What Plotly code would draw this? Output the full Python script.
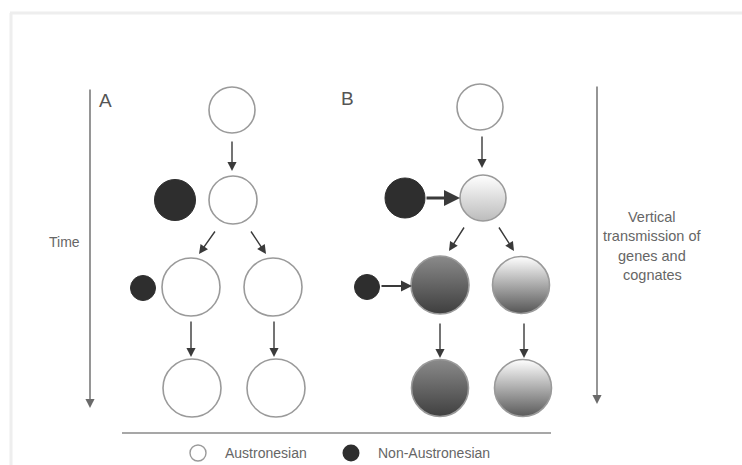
import plotly.graph_objects as go

# ---- Data: nodes of the two panels (diagram coordinates) ----
# Panel A nodes
a_node_x = [232, 233, 191, 273, 192, 276]
a_node_y = [110, 200, 287, 287, 388, 388]
a_node_d = [46, 48, 58, 58, 58, 58]
# Panel A non-Austronesian contacts
a_dark_x = [175, 143]
a_dark_y = [200, 288]
a_dark_d = [41, 25]

# Panel B nodes with top colour / bottom colour (mixing)
b_node_x = [480, 483, 440, 521, 440, 523]
b_node_y = [107, 198, 285, 285, 388, 388]
b_node_d = [46, 46, 58, 57, 57, 57]
b_top = ["#ffffff", "#ffffff", "#8a8a8a", "#ffffff", "#8a8a8a", "#ffffff"]
b_bottom = ["#ffffff", "#bcbcbc", "#3e3e3e", "#555555", "#404040", "#5a5a5a"]
b_dark_x = [405, 367]
b_dark_y = [198, 287]
b_dark_d = [40, 25]

# Arrows: (tail_x, tail_y, head_x, head_y, width)
arrows = [
    (232, 140, 232, 171, 1.4),
    (216, 230, 199, 254, 1.4),
    (250, 230, 266, 254, 1.4),
    (191, 320, 191, 357, 1.4),
    (274, 320, 274, 357, 1.4),
    (482, 135, 482, 168, 1.4),
    (465, 226, 449, 251, 1.4),
    (498, 226, 514, 251, 1.4),
    (440, 322, 440, 358, 1.4),
    (524, 322, 524, 358, 1.4),
    (425, 198, 460, 198, 3.2),
    (380, 286, 412, 286, 2.2),
]
time_arrows = [(90, 88, 90, 408), (597, 85, 597, 404)]

legend_labels = ["Austronesian", "Non-Austronesian"]
side_text = ["Vertical", "transmission of", "genes and", "cognates"]

fig = go.Figure()

# Panel A white nodes
fig.add_trace(go.Scatter(
    x=a_node_x, y=a_node_y, mode="markers", hoverinfo="skip",
    marker=dict(size=a_node_d, opacity=1, color="white", line=dict(color="#9a9a9a", width=1.6)),
))
# dark contact nodes
fig.add_trace(go.Scatter(
    x=a_dark_x + b_dark_x, y=a_dark_y + b_dark_y, mode="markers", hoverinfo="skip",
    marker=dict(size=a_dark_d + b_dark_d, opacity=1, color="#2e2e2e",
                line=dict(color="#2e2e2e", width=1)),
))
# Panel B gradient nodes
for x, y, d, top, bot in zip(b_node_x, b_node_y, b_node_d, b_top, b_bottom):
    fig.add_trace(go.Scatter(
        x=[x], y=[y], mode="markers", hoverinfo="skip",
        marker=dict(size=d, opacity=1, color=top, gradient=dict(type="vertical", color=bot),
                    line=dict(color="#9a9a9a", width=1.6)),
    ))

# Legend markers
fig.add_trace(go.Scatter(
    x=[198], y=[453], mode="markers", hoverinfo="skip",
    marker=dict(size=16, opacity=1, color="white", line=dict(color="#9a9a9a", width=1.4)),
))
fig.add_trace(go.Scatter(
    x=[351], y=[453], mode="markers", hoverinfo="skip",
    marker=dict(size=17, opacity=1, color="#2e2e2e"),
))

ann = []
for tx, ty, hx, hy, w in arrows:
    ann.append(dict(x=hx, y=hy, ax=tx, ay=ty, xref="x", yref="y", axref="x", ayref="y",
                    text="", showarrow=True, arrowhead=2, arrowsize=1.0 if w > 2 else 1.3,
                    arrowwidth=w, arrowcolor="#3a3a3a", standoff=0, startstandoff=0))
for tx, ty, hx, hy in time_arrows:
    ann.append(dict(x=hx, y=hy, ax=tx, ay=ty, xref="x", yref="y", axref="x", ayref="y",
                    text="", showarrow=True, arrowhead=2, arrowsize=1.3,
                    arrowwidth=1.4, arrowcolor="#6a6a6a", standoff=0))

font_main = "Liberation Sans, Arial, sans-serif"
ann.append(dict(x=105, y=100, xref="x", yref="y", text="A", showarrow=False,
                font=dict(family=font_main, size=19, color="#555555")))
ann.append(dict(x=347, y=98, xref="x", yref="y", text="B", showarrow=False,
                font=dict(family=font_main, size=19, color="#555555")))
ann.append(dict(x=64, y=242, xref="x", yref="y", text="Time", showarrow=False,
                font=dict(family=font_main, size=14, color="#666666")))
for i, line in enumerate(side_text):
    ann.append(dict(x=652, y=217 + i * 19.3, xref="x", yref="y", text=line, showarrow=False,
                    font=dict(family=font_main, size=14.5, color="#666666")))
ann.append(dict(x=223, y=453, xref="x", yref="y", text=legend_labels[0], showarrow=False,
                xanchor="left", font=dict(family=font_main, size=14, color="#666666")))
ann.append(dict(x=376, y=453, xref="x", yref="y", text=legend_labels[1], showarrow=False,
                xanchor="left", font=dict(family=font_main, size=14, color="#666666")))

shapes = [
    dict(type="line", x0=122, x1=551, y0=433, y1=433, xref="x", yref="y",
         line=dict(color="#8a8a8a", width=1.5)),
    dict(type="line", x0=10, x1=742, y0=13, y1=13, xref="x", yref="y",
         line=dict(color="#eeeeee", width=3)),
    dict(type="line", x0=11, x1=11, y0=13, y1=465, xref="x", yref="y",
         line=dict(color="#eeeeee", width=3)),
]

fig.update_layout(
    width=742, height=465, margin=dict(l=0, r=0, t=0, b=0),
    paper_bgcolor="white", plot_bgcolor="white", showlegend=False,
    xaxis=dict(range=[0, 742], visible=False, fixedrange=True),
    yaxis=dict(range=[465, 0], visible=False, fixedrange=True),
    annotations=ann, shapes=shapes,
)
fig.write_html("out.html", config={"displayModeBar": False},
               post_script="document.body.style.margin='0';")
